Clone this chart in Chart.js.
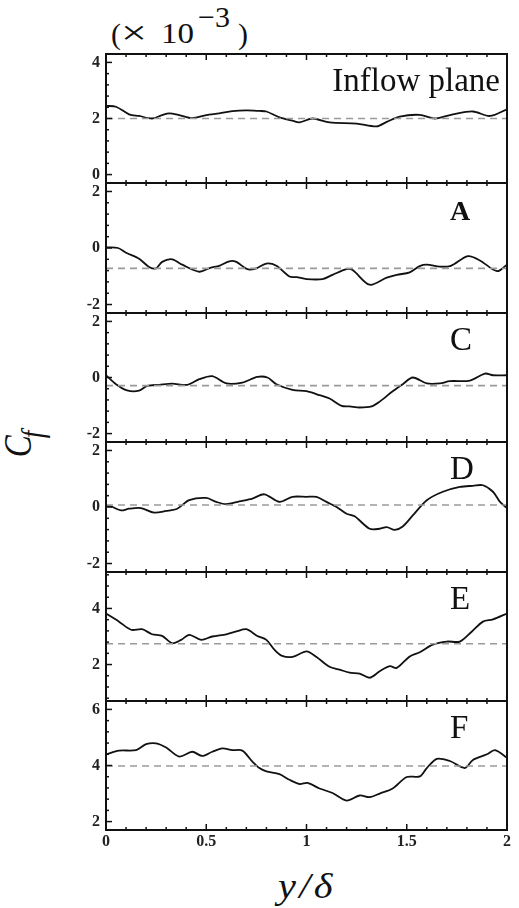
<!DOCTYPE html>
<html>
<head>
<meta charset="utf-8">
<script src="https://cdn.jsdelivr.net/npm/chart.js@4.4.1/dist/chart.umd.min.js"></script>
<style>
  body { margin: 0; width: 519px; height: 908px; position: relative; background: #fff; overflow: hidden; font-family: "Liberation Serif", "DejaVu Serif", serif; color: #111; }
  canvas { position: absolute; left: 0; }
  .txt { position: absolute; white-space: nowrap; line-height: 1; }
</style>
</head>
<body>
<!-- unit marker above the top panel -->
<div class="txt" style="left:111px;top:19px;font-size:30px">(</div>
<div class="txt" style="left:121px;top:16px;font-size:34px;transform:scaleX(1.35);transform-origin:left">×</div>
<div class="txt" style="left:161px;top:18px;font-size:30px;transform:scaleX(1.1);transform-origin:left">10</div>
<div class="txt" style="left:198px;top:2px;font-size:30px">−3</div>
<div class="txt" style="left:238px;top:19px;font-size:30px">)</div>

<div class="txt" style="left:18px;top:444px;font-size:33px;font-style:italic;transform:translate(-50%,-50%) rotate(-90deg) scaleY(1.2)">C<span style="font-size:27px;position:relative;top:10px;margin-left:-3px">f</span></div>
<div class="txt" style="left:307px;top:868px;font-size:36px;font-style:italic;letter-spacing:3px;transform:translateX(-50%) scaleX(1.12)">y/δ</div>

<script>
// y/δ positions and Cf (×10^-3) values
const inflowCf = [[0,2.45],[0.05,2.42],[0.115,2.15],[0.165,2.09],[0.23,2.0],[0.28,2.12],[0.315,2.18],[0.365,2.12],[0.43,2.01],[0.5,2.12],[0.565,2.18],[0.63,2.26],[0.7,2.29],[0.765,2.27],[0.8,2.25],[0.865,2.04],[0.93,1.92],[0.965,1.86],[1.03,2.0],[1.115,1.86],[1.25,1.82],[1.35,1.72],[1.4,1.88],[1.465,2.07],[1.565,2.13],[1.64,2.0],[1.73,2.15],[1.83,2.25],[1.915,2.09],[2.0,2.33]];
const planeA = [[0,0.02],[0.06,0],[0.1,-0.17],[0.165,-0.38],[0.215,-0.67],[0.25,-0.72],[0.28,-0.49],[0.33,-0.4],[0.38,-0.59],[0.465,-0.84],[0.52,-0.7],[0.565,-0.63],[0.615,-0.47],[0.65,-0.49],[0.705,-0.75],[0.75,-0.72],[0.8,-0.55],[0.85,-0.63],[0.915,-1.01],[0.95,-1.03],[1.0,-1.1],[1.08,-1.1],[1.13,-0.95],[1.2,-0.75],[1.23,-0.78],[1.315,-1.3],[1.4,-1.05],[1.45,-0.95],[1.515,-0.86],[1.565,-0.64],[1.6,-0.59],[1.665,-0.66],[1.72,-0.63],[1.805,-0.29],[1.865,-0.44],[1.95,-0.82],[2.0,-0.59]];
const planeC = [[0,0.08],[0.05,-0.24],[0.105,-0.46],[0.165,-0.47],[0.205,-0.3],[0.265,-0.26],[0.33,-0.22],[0.405,-0.26],[0.465,-0.06],[0.53,0.05],[0.6,-0.21],[0.68,-0.18],[0.755,0.02],[0.805,0],[0.85,-0.24],[0.93,-0.44],[1.0,-0.49],[1.065,-0.63],[1.115,-0.75],[1.175,-1.01],[1.215,-1.03],[1.265,-1.07],[1.325,-1.03],[1.365,-0.86],[1.43,-0.49],[1.48,-0.24],[1.53,0],[1.6,-0.21],[1.665,-0.21],[1.715,-0.13],[1.815,-0.11],[1.89,0.14],[1.93,0.08],[2.0,0.08]];
const planeD = [[0,0.04],[0.025,0.02],[0.075,-0.12],[0.115,-0.06],[0.175,-0.04],[0.24,-0.2],[0.3,-0.14],[0.355,-0.06],[0.415,0.24],[0.5,0.32],[0.55,0.18],[0.6,0.1],[0.665,0.2],[0.73,0.3],[0.79,0.45],[0.865,0.18],[0.93,0.36],[1.0,0.36],[1.05,0.36],[1.1,0.18],[1.15,0],[1.2,-0.24],[1.24,-0.33],[1.315,-0.77],[1.365,-0.77],[1.4,-0.71],[1.44,-0.81],[1.48,-0.69],[1.53,-0.3],[1.6,0.24],[1.68,0.54],[1.765,0.71],[1.83,0.75],[1.88,0.77],[1.93,0.54],[1.965,0.18],[2.0,-0.04]];
const planeE = [[0,3.82],[0.065,3.53],[0.125,3.24],[0.18,3.26],[0.23,3.08],[0.28,3.02],[0.33,2.76],[0.375,2.88],[0.415,3.06],[0.475,2.88],[0.53,3.0],[0.6,3.08],[0.65,3.18],[0.7,3.26],[0.755,3.02],[0.8,2.88],[0.84,2.53],[0.875,2.32],[0.93,2.27],[1.0,2.47],[1.05,2.27],[1.115,1.92],[1.165,1.82],[1.215,1.71],[1.265,1.68],[1.315,1.53],[1.365,1.76],[1.415,1.94],[1.45,1.88],[1.515,2.29],[1.565,2.44],[1.63,2.71],[1.7,2.82],[1.765,2.82],[1.825,3.18],[1.88,3.53],[1.93,3.61],[2.0,3.82]];
const planeF = [[0,4.4],[0.065,4.53],[0.15,4.55],[0.2,4.76],[0.25,4.79],[0.3,4.64],[0.365,4.32],[0.43,4.49],[0.48,4.34],[0.53,4.49],[0.58,4.61],[0.63,4.55],[0.68,4.53],[0.73,4.14],[0.765,3.91],[0.8,3.79],[0.865,3.69],[0.915,3.49],[0.965,3.34],[1.005,3.38],[1.065,3.18],[1.13,3.02],[1.2,2.75],[1.265,2.93],[1.315,2.87],[1.365,3.0],[1.43,3.18],[1.5,3.59],[1.565,3.61],[1.6,3.91],[1.65,4.24],[1.715,4.16],[1.79,3.91],[1.83,4.2],[1.9,4.4],[1.94,4.55],[2.0,4.28]];

const panelSeries = [inflowCf, planeA, planeC, planeD, planeE, planeF];
const panelNames = ["Inflow plane", "A", "C", "D", "E", "F"];
const meanCf = [2.0, -0.72, -0.29, 0.07, 2.74, 3.98];
const yCenters = [2, 0, 0, 0, 3, 4];
const yTicks = [[0, 2, 4], [-2, 0, 2], [-2, 0, 2], [-2, 0, 2], [2, 4], [2, 4, 6]];
const xTicks = [0, 0.5, 1, 1.5, 2];
const xTickLabels = ["0", "0.5", "1", "1.5", "2"];

const panelTops = [54, 183, 313, 442, 572, 701, 830];
const halfRange = 2.3;

const framePlugin = {
  id: "frame",
  afterDraw(chart) {
    const o = chart.options.plugins.frame;
    const { ctx, chartArea: a } = chart;
    const x = chart.scales.x, y = chart.scales.y;
    ctx.save();
    ctx.strokeStyle = "#111";
    ctx.lineWidth = 1.5;
    // x ticks on top and bottom edges
    for (let k = 0; k <= 20; k++) {
      const px = x.getPixelForValue(k / 10);
      const len = k % 5 === 0 ? 6 : 3;
      ctx.beginPath();
      ctx.moveTo(px, a.top); ctx.lineTo(px, a.top + len);
      ctx.moveTo(px, a.bottom); ctx.lineTo(px, a.bottom - len);
      ctx.stroke();
    }
    // y ticks on left edge
    for (let k = Math.ceil(y.min / 0.4); k <= Math.floor(y.max / 0.4); k++) {
      const v = k * 0.4;
      const major = o.majors.some(m => Math.abs(m - v) < 1e-6);
      const py = y.getPixelForValue(v);
      ctx.beginPath();
      ctx.moveTo(a.left, py); ctx.lineTo(a.left + (major ? 6 : 3), py);
      ctx.stroke();
    }
    // frame
    ctx.lineWidth = 2;
    ctx.strokeRect(a.left, a.top, a.right - a.left, a.bottom - a.top);
    // tick labels
    ctx.fillStyle = "#222";
    ctx.font = 'bold 16px "Liberation Serif"';
    ctx.textAlign = "right";
    ctx.textBaseline = "middle";
    o.majors.forEach(m => ctx.fillText(String(m), a.left - 6, y.getPixelForValue(m)));
    if (o.xLabels) {
      ctx.textAlign = "center";
      ctx.textBaseline = "top";
      xTicks.forEach((t, i) => ctx.fillText(xTickLabels[i], x.getPixelForValue(t), a.bottom + 4));
    }
    // panel name
    ctx.fillStyle = "#111";
    ctx.textBaseline = "alphabetic";
    if (o.name.length > 1) {
      ctx.font = '33px "Liberation Serif"';
      ctx.textAlign = "right";
      ctx.fillText(o.name, 500, a.top + 37);
    } else {
      ctx.font = o.name === "A" ? 'bold 28px "Liberation Serif"' : '33px "Liberation Serif"';
      ctx.textAlign = "left";
      ctx.fillText(o.name, 450, a.top + 37);
    }
    ctx.restore();
  }
};

panelSeries.forEach((series, i) => {
  const last = i === panelSeries.length - 1;
  const top = panelTops[i], bottom = panelTops[i + 1];
  const padTop = 10, padBottom = last ? 40 : 10;
  const canvas = document.createElement("canvas");
  canvas.width = 519;
  canvas.height = bottom - top + padTop + padBottom;
  canvas.style.top = (top - padTop) + "px";
  document.body.appendChild(canvas);

  new Chart(canvas.getContext("2d"), {
    type: "line",
    data: {
      datasets: [
        {
          data: [{ x: 0, y: meanCf[i] }, { x: 2, y: meanCf[i] }],
          borderColor: "#9a9a9a",
          borderWidth: 1.6,
          borderDash: [7, 5],
          pointRadius: 0,
        },
        {
          data: series.map(p => ({ x: p[0], y: p[1] })),
          borderColor: "#111",
          borderWidth: 1.8,
          pointRadius: 0,
          tension: 0.3,
        },
      ],
    },
    options: {
      responsive: false,
      animation: false,
      layout: { padding: { left: 106, right: 12, top: padTop, bottom: padBottom } },
      plugins: {
        legend: { display: false },
        tooltip: { enabled: false },
        frame: { majors: yTicks[i], name: panelNames[i], xLabels: last },
      },
      scales: {
        x: { type: "linear", min: 0, max: 2, display: false },
        y: { min: yCenters[i] - halfRange, max: yCenters[i] + halfRange, display: false },
      },
    },
    plugins: [framePlugin],
  });
});
</script>
</body>
</html>
